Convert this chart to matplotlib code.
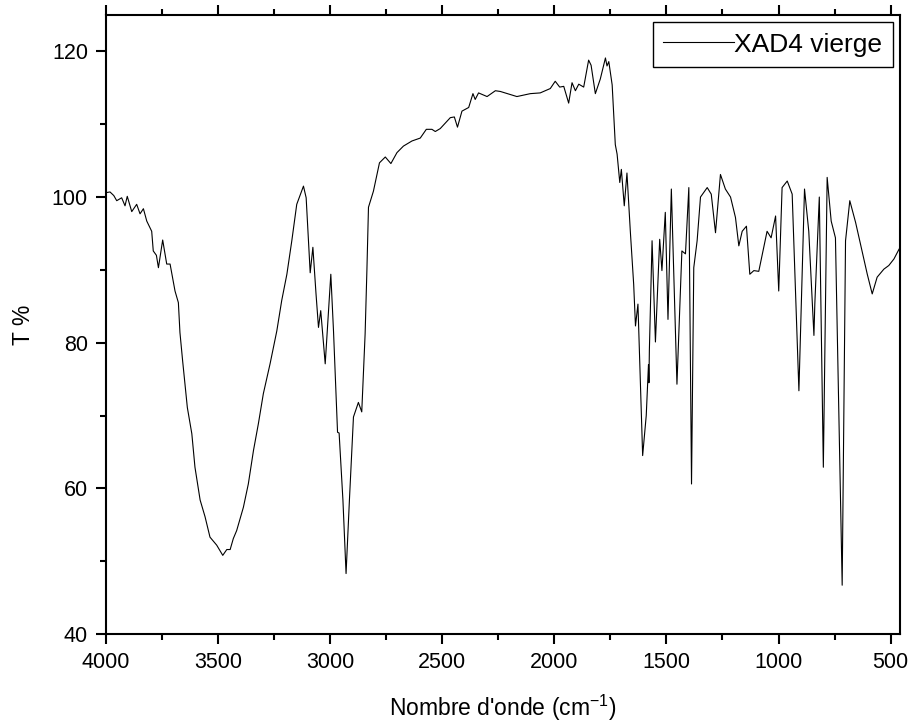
import matplotlib
matplotlib.use("Agg")
import matplotlib.pyplot as plt
from matplotlib.ticker import MultipleLocator

# spectrum
wavenumber = [4000, 3982, 3965, 3952, 3930, 3915, 3905, 3885, 3863, 3848, 3833, 3818,
              3796, 3789, 3775, 3766, 3747, 3729, 3714, 3692, 3677, 3670, 3658, 3637,
              3617, 3603, 3580, 3558, 3536, 3506, 3479, 3461, 3446, 3432, 3417, 3387,
              3365, 3342, 3320, 3298, 3268, 3238, 3216, 3193, 3171, 3149, 3119, 3107,
              3089, 3077, 3063, 3052, 3042, 3022, 3010, 2997, 2985, 2967, 2960, 2943,
              2929, 2914, 2896, 2874, 2859, 2844, 2836, 2829, 2807, 2780, 2754, 2729,
              2702, 2673, 2635, 2598, 2571, 2546, 2531, 2509, 2464, 2446, 2432, 2412,
              2382, 2363, 2353, 2338, 2300, 2263, 2241, 2167, 2107, 2063, 2018, 1996,
              1976, 1958, 1936, 1921, 1906, 1891, 1869, 1847, 1836, 1817, 1795, 1772,
              1765, 1757, 1742, 1728, 1720, 1708, 1701, 1688, 1676, 1661, 1646, 1638,
              1627, 1606, 1590, 1580, 1578, 1576, 1564, 1549, 1530, 1520, 1505, 1493,
              1478, 1453, 1431, 1415, 1400, 1388, 1378, 1363, 1348, 1318, 1300, 1281,
              1259, 1237, 1214, 1192, 1177, 1162, 1143, 1128, 1110, 1088, 1066, 1051,
              1033, 1013, 999, 984, 961, 939, 909, 884, 865, 842, 838, 818,
              800, 783, 765, 746, 716, 701, 682, 656, 634, 604, 582, 560,
              530, 508, 485, 463, 455]
transmittance = [100.6, 100.7, 100.2, 99.5, 99.9, 98.8, 100.1, 98.0, 99.0, 97.7, 98.4, 96.7,
                 95.3, 92.6, 92.0, 90.3, 94.1, 90.8, 90.8, 87.1, 85.5, 81.4, 77.5, 71.1,
                 67.5, 62.9, 58.4, 56.1, 53.3, 52.2, 50.8, 51.6, 51.6, 53.1, 54.2, 57.4,
                 60.6, 65.2, 68.9, 73.0, 77.1, 81.6, 85.8, 89.4, 94.0, 99.0, 101.5, 99.9,
                 89.6, 93.1, 86.7, 82.1, 84.4, 77.1, 83.0, 89.4, 81.6, 67.7, 67.6, 58.4,
                 48.3, 58.4, 69.8, 71.8, 70.5, 81.2, 90.0, 98.6, 100.8, 104.7, 105.5, 104.6,
                 106.1, 107.0, 107.7, 108.1, 109.3, 109.3, 109.0, 109.4, 110.9, 111.0, 109.6, 111.8,
                 112.3, 114.2, 113.4, 114.3, 113.8, 114.6, 114.5, 113.8, 114.2, 114.3, 114.9, 115.9,
                 115.1, 115.2, 112.9, 115.7, 114.6, 115.5, 115.1, 118.8, 118.1, 114.2, 116.2, 119.1,
                 118.0, 118.6, 115.4, 107.2, 105.9, 102.0, 103.8, 98.8, 103.3, 95.3, 88.0, 82.3,
                 85.3, 64.5, 70.0, 77.0, 74.5, 79.0, 94.0, 80.1, 94.2, 89.9, 97.9, 83.2,
                 101.1, 74.3, 92.6, 92.2, 101.3, 60.6, 90.3, 94.0, 100.0, 101.3, 100.4, 95.1,
                 103.1, 101.1, 100.0, 97.2, 93.3, 95.3, 96.0, 89.4, 89.9, 89.8, 93.1, 95.3,
                 94.4, 97.4, 87.1, 101.3, 102.2, 100.4, 73.4, 101.1, 95.3, 81.0, 85.3, 100.0,
                 62.9, 102.7, 96.7, 94.4, 46.7, 94.0, 99.5, 96.5, 93.5, 89.4, 86.7, 89.0,
                 90.1, 90.6, 91.5, 92.8, 93.2]

plt.rcParams['font.family'] = ['Liberation Sans', 'DejaVu Sans']
plt.rcParams['mathtext.default'] = 'regular'

fig = plt.figure(figsize=(9.08, 7.24), dpi=100)
ax = fig.add_axes([0.1167, 0.1243, 0.8745, 0.855])

ax.plot(wavenumber, transmittance, color='black', lw=0.8, label='XAD4 vierge')

ax.set_xlim(4000, 458)
ax.set_ylim(40, 125)
ax.xaxis.set_major_locator(MultipleLocator(500))
ax.xaxis.set_minor_locator(MultipleLocator(250))
ax.yaxis.set_major_locator(MultipleLocator(20))
ax.yaxis.set_minor_locator(MultipleLocator(10))

for s in ax.spines.values():
    s.set_linewidth(1.5)

ax.tick_params(which='major', direction='out', length=7, width=1.5, labelsize=15.5, pad=6)
ax.tick_params(which='minor', direction='out', length=4, width=1.5)
ax.tick_params(axis='x', which='both', top=True, labeltop=False)

ax.set_xlabel("Nombre d'onde (cm$^{-1}$)", fontsize=16.5, labelpad=14)
ax.set_ylabel("T %", fontsize=16.5, labelpad=12)

leg = ax.legend(loc='upper right', fontsize=19, handlelength=2.7, handletextpad=0,
                borderpad=0.4, borderaxespad=0, fancybox=False, framealpha=1,
                edgecolor='black', bbox_to_anchor=(0.991, 0.9887))
leg.get_frame().set_linewidth(1.0)

# save as png
fig.savefig("out.png", dpi=100)
